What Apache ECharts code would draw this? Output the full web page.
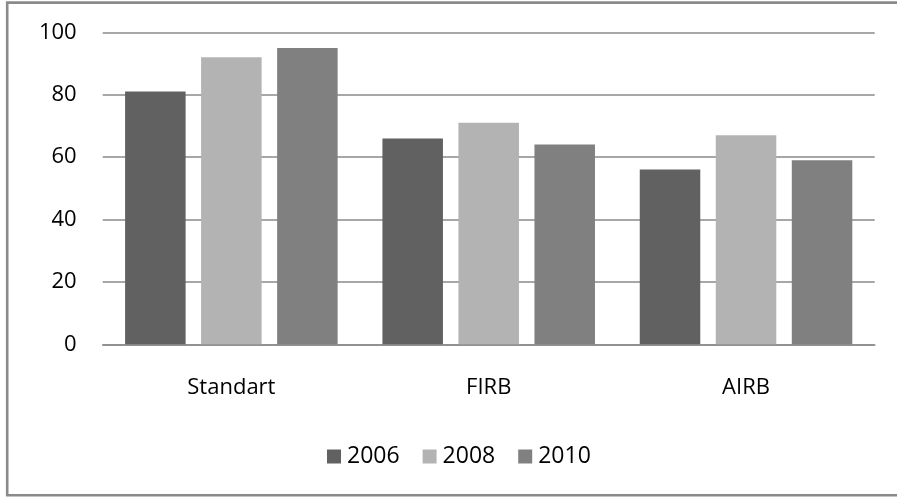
<!DOCTYPE html>
<html>
<head>
<meta charset="utf-8">
<script src="https://cdn.jsdelivr.net/npm/echarts@6/dist/echarts.min.js"></script>
<style>
  html, body { margin: 0; padding: 0; background: #fff; }
  #chart { width: 897px; height: 498px; }
</style>
</head>
<body>
<div id="chart"></div>
<script>
// Approach categories and yearly scores
const categories = ['Standart', 'FIRB', 'AIRB'];
const years = ['2006', '2008', '2010'];
const values2006 = [81, 66, 56];
const values2008 = [92, 71, 67];
const values2010 = [95, 64, 59];
const yTicks = [0, 20, 40, 60, 80, 100];

const seriesValues = [values2006, values2008, values2010];
const seriesColors = ['#616161', '#b3b3b3', '#808080'];
const FONT = '"Open Sans", "DejaVu Sans", sans-serif';

const chart = echarts.init(document.getElementById('chart'), null, { renderer: 'canvas' });

chart.setOption({
  animation: false,
  backgroundColor: '#ffffff',
  graphic: [{
    type: 'rect',
    shape: { x: 7.2, y: 2.6, width: 900, height: 492.6 },
    style: { fill: 'none', stroke: '#8a8a8a', lineWidth: 2.6 },
    silent: true
  }],
  grid: { left: 102.7, right: 22.3, top: 32.3, bottom: 153.7, containLabel: false },
  legend: {
    data: years,
    bottom: 25,
    left: 322,
    itemWidth: 14,
    itemHeight: 14,
    itemGap: 23,
    icon: 'rect',
    textStyle: { fontFamily: FONT, fontSize: 23, color: '#000', padding: [0, 0, 0, 1] }
  },
  xAxis: {
    type: 'category',
    data: categories,
    axisLine: { lineStyle: { color: '#8a8a8a', width: 1.6 } },
    axisTick: { show: false },
    axisLabel: { fontFamily: FONT, fontSize: 22, color: '#000', margin: 32 }
  },
  yAxis: {
    type: 'value',
    min: yTicks[0],
    max: yTicks[yTicks.length - 1],
    interval: 20,
    axisLine: { show: false },
    axisTick: { show: false },
    axisLabel: { fontFamily: FONT, fontSize: 22, color: '#000', margin: 26 },
    splitLine: { lineStyle: { color: '#8a8a8a', width: 1.6 } }
  },
  series: years.map((y, i) => ({
    name: y,
    type: 'bar',
    data: seriesValues[i],
    barGap: '25.6%',
    barCategoryGap: '17.4%',
    itemStyle: { color: seriesColors[i] }
  }))
});
</script>
</body>
</html>
